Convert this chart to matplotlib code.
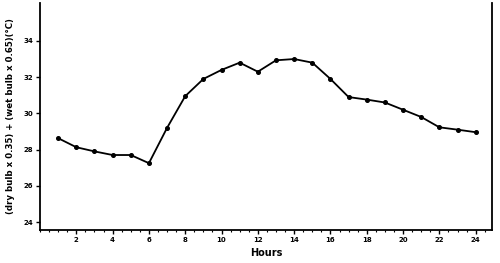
import matplotlib
matplotlib.use('Agg')
import matplotlib.pyplot as plt
from matplotlib.ticker import MultipleLocator

# Hourly values
hours = list(range(1, 25))
values = [28.63, 28.13, 27.9, 27.7, 27.7, 27.25, 29.2, 30.95, 31.9, 32.4, 32.8, 32.3,
          32.93, 33.0, 32.8, 31.9, 30.9, 30.76, 30.6, 30.2, 29.8, 29.23, 29.1, 28.96]
x_ticks = list(range(2, 25, 2))
y_ticks = [24, 26, 28, 30, 32, 34]

fig = plt.figure(figsize=(5, 2.63), dpi=100)
ax = fig.add_axes([0.08, 0.1255, 0.904, 0.8635])

ax.plot(hours, values, color='black', linewidth=1.3, marker='o', markersize=2.6)

ax.set_xlim(0, 24.9)
ax.set_ylim(23.56, 36.1)
ax.set_xticks(x_ticks)
ax.set_yticks(y_ticks)
ax.xaxis.set_minor_locator(MultipleLocator(0.5))
ax.tick_params(axis='both', which='major', length=3, width=1, labelsize=5, pad=2)
ax.tick_params(axis='x', which='minor', length=1.5, width=0.8)
for lab in ax.get_xticklabels() + ax.get_yticklabels():
    lab.set_fontweight('bold')

ax.spines['top'].set_visible(False)
for s in ['left', 'bottom', 'right']:
    ax.spines[s].set_linewidth(1.3)

ax.set_xlabel('Hours', fontsize=7, fontweight='bold', labelpad=4)
ax.set_ylabel('(dry bulb x 0.35) + (wet bulb x 0.65)(\u00b0C)', fontsize=6.2,
              fontweight='bold', labelpad=6)

fig.savefig('out.png', dpi=100)
